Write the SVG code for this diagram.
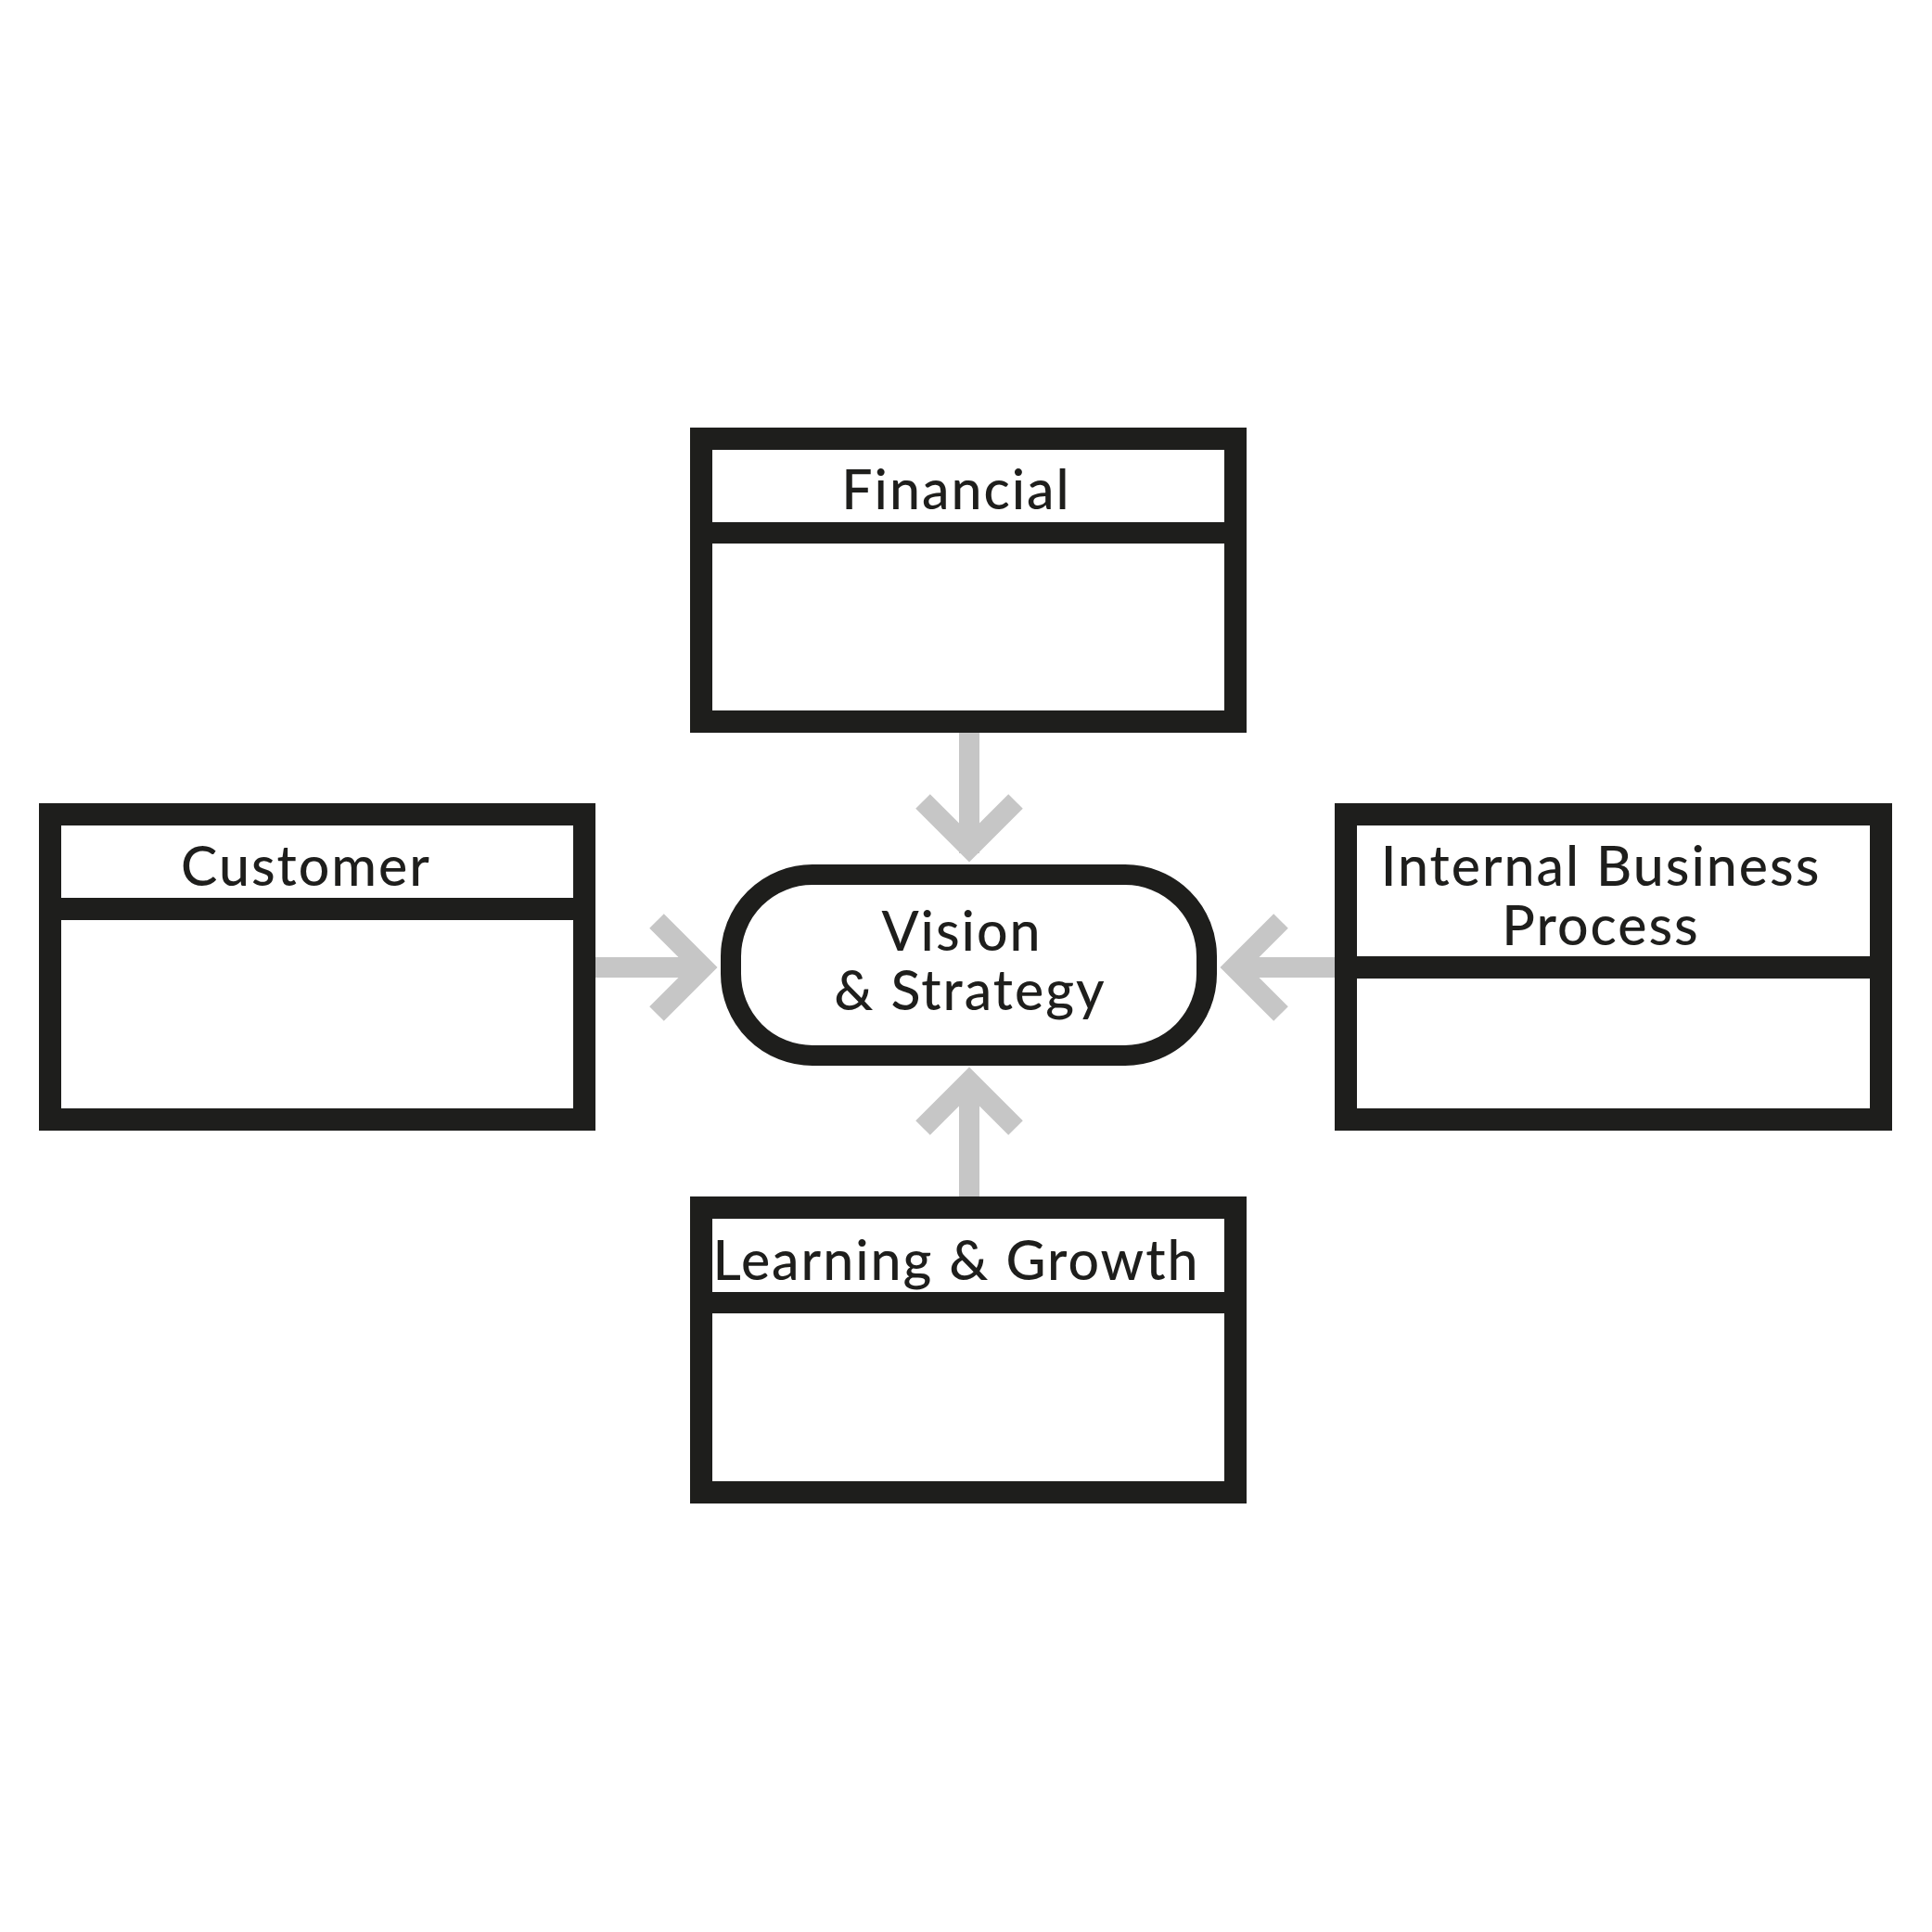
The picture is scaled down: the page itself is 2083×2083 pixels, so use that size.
<svg xmlns="http://www.w3.org/2000/svg" width="2083" height="2083" viewBox="0 0 2083 2083">
<style>
.box{fill:#fff;stroke:#1e1e1c;stroke-width:24}
.div{fill:#1e1e1c}
.pill{fill:#fff;stroke:#1e1e1c;stroke-width:22}
.arr{fill:none;stroke:#c6c6c6;stroke-width:22;stroke-linejoin:miter;stroke-miterlimit:10}
.t{font-family:Lato,"Liberation Sans",sans-serif;font-size:59px;fill:#1e1e1c;text-anchor:middle;font-weight:500;letter-spacing:2px}
</style>
<rect width="2083" height="2083" fill="#fff"/>
<g id="connectors">
<path class="arr" d="M1045 790V920M995 864L1045 914L1095 864"/>
<path class="arr" d="M1045 1290V1172M995 1216L1045 1166L1095 1216"/>
<path class="arr" d="M632 1043H752M708 993L758 1043L708 1093"/>
<path class="arr" d="M1451 1043H1337M1381 993L1331 1043L1381 1093"/>
</g>
<g id="financial">
<rect class="box" x="756" y="473" width="576" height="305"/>
<rect class="div" x="756" y="563" width="576" height="23"/>
<text class="t" x="1031" y="549">Financial</text>
</g>
<g id="customer">
<rect class="box" x="54" y="878" width="576" height="329"/>
<rect class="div" x="54" y="968" width="576" height="24"/>
<text class="t" x="330" y="955">Customer</text>
</g>
<g id="internal">
<rect class="box" x="1451" y="878" width="577" height="329"/>
<rect class="div" x="1451" y="1031" width="577" height="24"/>
<text class="t" x="1726" y="955">Internal Business</text>
<text class="t" x="1726" y="1019">Process</text>
</g>
<g id="learning">
<rect class="box" x="756" y="1302" width="576" height="307"/>
<rect class="div" x="756" y="1393" width="576" height="23"/>
<text class="t" x="1031" y="1380">Learning &amp; Growth</text>
</g>
<g id="vision">
<rect class="pill" x="788" y="943" width="513" height="195" rx="88" ry="88"/>
<text class="t" x="1037" y="1025">Vision</text>
<text class="t" x="1046" y="1089">&amp; Strategy</text>
</g>
</svg>
